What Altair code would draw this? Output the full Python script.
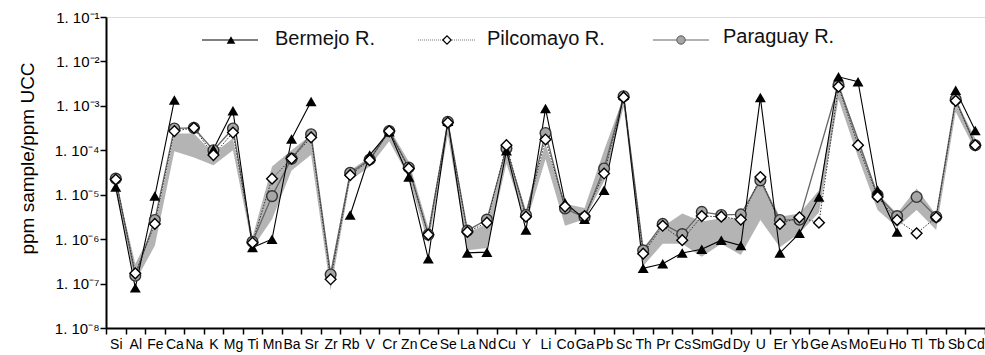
import altair as alt
import pandas as pd

elements = ["Si", "Al", "Fe", "Ca", "Na", "K", "Mg", "Ti", "Mn", "Ba", "Sr", "Zr", "Rb", "V",
            "Cr", "Zn", "Ce", "Se", "La", "Nd", "Cu", "Y", "Li", "Co", "Ga", "Pb", "Sc", "Th",
            "Pr", "Cs", "Sm", "Gd", "Dy", "U", "Er", "Yb", "Ge", "As", "Mo", "Eu", "Ho", "Tl",
            "Tb", "Sb", "Cd"]

bermejo = [1.5e-5, 8e-8, 9.3e-6, 1.35e-3, None, 1.05e-4, 7.8e-4, 6.5e-7, 1.0e-6, 1.8e-4,
           1.25e-3, None, 3.5e-6, 7.8e-5, 2.6e-4, 2.5e-5, 3.6e-7, 4.5e-4, 4.9e-7, 5.1e-7,
           9.8e-5, 1.6e-6, 8.7e-4, 6.6e-6, 2.8e-6, 1.26e-5, 1.75e-3, 2.2e-7, 2.8e-7, 4.9e-7,
           5.9e-7, 9.5e-7, 7.2e-7, 1.55e-3, 4.9e-7, 1.35e-6, 8.9e-6, 4.5e-3, 3.5e-3, 1.26e-5,
           1.45e-6, None, None, 2.25e-3, 2.8e-4]

pilcomayo = [2.2e-5, 1.7e-7, 2.2e-6, 2.7e-4, 3.2e-4, 7.8e-5, 2.5e-4, 8.3e-7, 2.3e-5, 6.5e-5,
             1.95e-4, 1.25e-7, 2.75e-5, 6.0e-5, 2.7e-4, 3.9e-5, 1.26e-6, 4.2e-4, 1.45e-6, 2.35e-6,
             1.3e-4, 3.2e-6, 1.75e-4, 5.4e-6, 3.3e-6, 3.0e-5, 1.55e-3, 4.7e-7, 2.0e-6, 9.5e-7,
             3.3e-6, 3.2e-6, 2.75e-6, 2.5e-5, 2.2e-6, 3.1e-6, 2.35e-6, 2.7e-3, 1.3e-4, 8.9e-6,
             2.7e-6, 1.35e-6, 3.1e-6, 1.3e-3, 1.3e-4]

paraguay = [2.3e-5, 1.5e-7, 2.7e-6, 3.1e-4, 3.2e-4, 1.0e-4, 3.1e-4, 8.7e-7, 9.3e-6, 6.5e-5,
            2.3e-4, 1.6e-7, 3.1e-5, 6.2e-5, 2.7e-4, 4.1e-5, 1.26e-6, 4.4e-4, 1.55e-6, 2.75e-6,
            1.1e-4, 3.5e-6, 2.45e-4, 4.9e-6, 3.1e-6, 3.9e-5, 1.65e-3, 5.6e-7, 2.2e-6, 1.3e-6,
            4.1e-6, 3.5e-6, 3.6e-6, 2.1e-5, 2.7e-6, 2.75e-6, None, 2.95e-3, None, 9.8e-6,
            3.3e-6, 8.9e-6, 3.2e-6, 1.4e-3, 1.3e-4]

band_high = [2.0e-5, 2.8e-7, 2.0e-6, 2.4e-4, 2.4e-4, 8.5e-5, 1.86e-4, 1.12e-6, 4.3e-5, 1.0e-4,
             2.2e-4, 2.0e-7, 3.5e-5, 7.1e-5, 3.1e-4, 5.6e-5, 1.8e-6, 4.2e-4, 1.4e-6, 2.2e-6,
             1.12e-4, 4.5e-6, 1.4e-4, 6.3e-6, 5.0e-6, 1.0e-4, 1.6e-3, 6.6e-7, 1.9e-6, 3.8e-6,
             2.5e-6, 2.95e-6, 2.95e-6, 2.3e-5, 3.2e-6, 3.8e-6, 1.26e-5, 2.95e-3, 2.0e-4, 1.07e-5,
             3.8e-6, 1.38e-5, 3.5e-6, 1.35e-3, 1.86e-4]

band_low = [1.12e-5, 1.12e-7, 7.1e-7, 9.5e-5, 6.9e-5, 4.6e-5, 1.0e-4, 6.3e-7, 2.8e-6, 3.5e-5,
            7.9e-5, 7.1e-8, 2.1e-5, 4.3e-5, 1.6e-4, 2.5e-5, 7.9e-7, 2.2e-4, 5.6e-7, 6.3e-7,
            5.0e-5, 2.2e-6, 6.3e-5, 2.0e-6, 2.8e-6, 2.0e-5, 9.5e-4, 2.5e-7, 7.9e-7, 7.9e-7,
            4.0e-7, 7.9e-7, 4.4e-7, 2.7e-6, 6.6e-7, 1.35e-6, 4.0e-6, 1.4e-3, 7.1e-5, 4.5e-6,
            1.86e-6, 4.5e-6, 1.6e-6, 7.4e-4, 1.0e-4]

y_ticks = [1e-8, 1e-7, 1e-6, 1e-5, 1e-4, 1e-3, 1e-2, 1e-1]
legend_labels = ["Bermejo R.", "Pilcomayo R.", "Paraguay R."]

FONT = "Liberation Sans"

df = pd.DataFrame({
    "element": elements,
    "Bermejo": bermejo,
    "Pilcomayo": pilcomayo,
    "Paraguay": paraguay,
    "band_high": band_high,
    "band_low": band_low,
})

yscale = alt.Scale(type="log", domain=[1e-8, 1e-1], nice=False)
xscale = alt.Scale(type="band", domain=elements, paddingInner=0, paddingOuter=0)

xaxis = alt.Axis(title=None, labelAngle=0, labelFontSize=14, labelFont=FONT, labelColor="black",
                 labelPadding=3, labelOverlap=False, labelBound=False, tickBand="extent",
                 tickSize=6, tickWidth=1.5, tickColor="black", domainWidth=2, domainColor="black",
                 grid=False)

sup = "['\u2070','\u207b\u00b9','\u207b\u00b2','\u207b\u00b3','\u207b\u2074','\u207b\u2075','\u207b\u2076','\u207b\u2077','\u207b\u2078']"
yaxis = alt.Axis(title="ppm sample/ppm UCC", titleFont=FONT, titleFontSize=19,
                 titleFontWeight="normal", titleColor="black", titleX=-79, titleY=141,
                 titleBaseline="middle", titleAlign="center", titleAngle=-90,
                 values=y_ticks, labelExpr="'1. 10' + " + sup + "[round(-log(datum.value)/LN10)]",
                 labelFontSize=15, labelFont=FONT, labelColor="black", labelPadding=1,
                 tickSize=6, tickWidth=1.5, tickColor="black", domainWidth=2,
                 domainColor="black", grid=False)

base = alt.Chart(df).encode(
    x=alt.X("element:N", sort=elements, scale=xscale, axis=xaxis)
)

band = base.mark_area(color="#b4b4b4", opacity=1).encode(
    y=alt.Y("band_high:Q", scale=yscale, axis=yaxis),
    y2="band_low:Q",
)

par_line = base.mark_line(color="#666666", strokeWidth=1.3).encode(
    y=alt.Y("Paraguay:Q", scale=yscale)
).transform_filter("isValid(datum.Paraguay)")
par_pts = base.mark_point(shape="circle", filled=True, fill="#a6a6a6", stroke="#333333",
                          strokeWidth=1.4, size=115, opacity=1).encode(
    y=alt.Y("Paraguay:Q", scale=yscale)
).transform_filter("isValid(datum.Paraguay)")

ber_line = base.mark_line(color="black", strokeWidth=1.1, invalid="break-paths-filter-domains").encode(
    y=alt.Y("Bermejo:Q", scale=yscale)
)
ber_pts = base.mark_point(shape="triangle-up", filled=True, color="black", size=120,
                          opacity=1).encode(
    y=alt.Y("Bermejo:Q", scale=yscale)
).transform_filter("isValid(datum.Bermejo)")

pil_line = base.mark_line(color="#333333", strokeWidth=1, strokeDash=[1.5, 1.5]).encode(
    y=alt.Y("Pilcomayo:Q", scale=yscale)
)
pil_pts = base.mark_point(shape="diamond", filled=True, fill="white", stroke="black",
                          strokeWidth=1.4, size=115, opacity=1).encode(
    y=alt.Y("Pilcomayo:Q", scale=yscale)
)

# legend
def legend_item(i, x0, x1, xm, xt, y, line_style, marker_style, ty):
    d = alt.Chart(pd.DataFrame({"label": [legend_labels[i]]}))
    rule = d.mark_rule(**line_style).encode(x=alt.value(x0), x2=alt.value(x1), y=alt.value(y))
    mk = d.mark_point(opacity=1, **marker_style).encode(x=alt.value(xm), y=alt.value(y))
    tx = d.mark_text(align="left", baseline="middle", font=FONT, fontSize=20,
                     color="#111111").encode(x=alt.value(xt), y=alt.value(ty), text="label:N")
    return [rule, mk, tx]

leg = []
leg += legend_item(0, 96, 152, 125, 169, 23, dict(color="black", strokeWidth=1.2),
                   dict(shape="triangle-up", filled=True, color="black", size=75), 22)
leg += legend_item(1, 312, 369, 341, 381, 23, dict(color="#777777", strokeWidth=1, strokeDash=[1, 1]),
                   dict(shape="diamond", filled=True, fill="white", stroke="black", strokeWidth=1.2, size=70), 22)
leg += legend_item(2, 547, 603, 575, 617, 23, dict(color="#999999", strokeWidth=1.5),
                   dict(shape="circle", filled=True, fill="#a6a6a6", stroke="#555555", strokeWidth=1, size=70), 20)

chart = alt.layer(band, par_line, ber_line, pil_line, par_pts, ber_pts, pil_pts, *leg).properties(
    width=879, height=311,
    padding={"left": 106, "top": 17, "right": 0, "bottom": 27},
    autosize=alt.AutoSizeParams(type="none"),
).configure_view(stroke=None).configure(background="white")

chart.save("out.html", embed_options={"renderer": "svg", "actions": False})
